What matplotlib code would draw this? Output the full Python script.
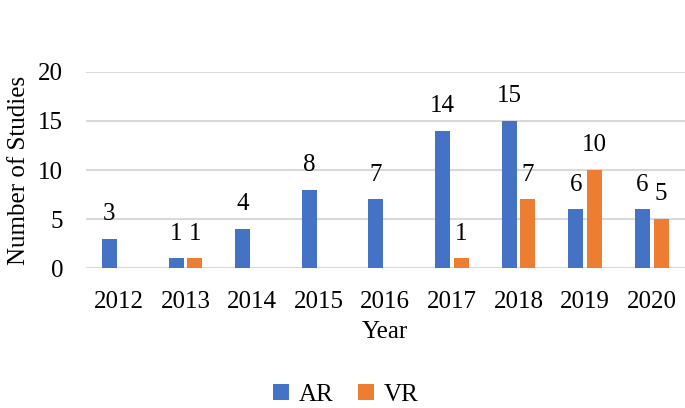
import numpy as np
import matplotlib.pyplot as plt

plt.rcParams['font.family'] = ['Liberation Serif', 'DejaVu Serif']

years = ['2012', '2013', '2014', '2015', '2016', '2017', '2018', '2019', '2020']
ar = [3, 1, 4, 8, 7, 14, 15, 6, 6]
vr = [0, 1, 0, 0, 0, 1, 7, 10, 5]

fig = plt.figure(figsize=(6.85, 4.08), dpi=100)
ax = fig.add_axes([85.5 / 685, 139.7 / 408, 599.5 / 685, 196.6 / 408])

x = np.arange(len(years))
w = 0.225
b1 = ax.bar(x - 0.14, ar, w, color='#4472C4', label='AR', zorder=3)
b2 = ax.bar(x + 0.14, vr, w, color='#ED7D31', label='VR', zorder=3)

for bars, vals in [(b1, ar), (b2, vr)]:
    for r, v in zip(bars, vals):
        if v > 0:
            ax.text(r.get_x() + r.get_width() / 2, v + 1.4, str(v),
                    ha='center', va='bottom', fontsize=18)

ax.set_xlim(-0.5, len(years) - 0.5)
ax.set_ylim(0, 20)
ax.set_yticks([0, 5, 10, 15, 20])
ax.set_xticks(x)
ax.set_xticklabels(years)
ax.tick_params(axis='both', length=0, labelsize=18)
ax.tick_params(axis='y', pad=16)
ax.tick_params(axis='x', pad=16)
ax.grid(axis='y', color='#D9D9D9', linewidth=1.5, zorder=0)
for s in ax.spines.values():
    s.set_visible(False)
ax.set_ylabel('Number of Studies', fontsize=18, labelpad=6)
ax.set_xlabel('Year', fontsize=18, labelpad=6)

fig.legend(loc='lower center', bbox_to_anchor=(0.505, -0.05), ncol=2, frameon=False,
           fontsize=18, handlelength=0.62, handleheight=0.62, columnspacing=1.0,
           handletextpad=0.4)

fig.savefig('out.png', dpi=100)
